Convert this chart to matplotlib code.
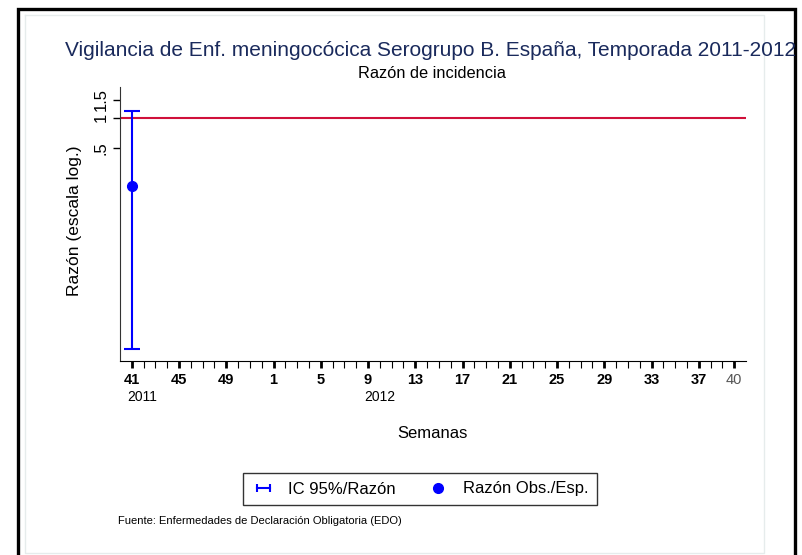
import numpy as np
import matplotlib
matplotlib.use("Agg")
import matplotlib.pyplot as plt
from matplotlib.lines import Line2D
from matplotlib.legend_handler import HandlerLine2D
from matplotlib.ticker import FixedLocator, NullFormatter

plt.rcParams["font.family"] = ["Liberation Sans", "DejaVu Sans"]

# -----------------------------
# Data
# -----------------------------
weeks = [41, 42, 43, 44, 45, 46, 47, 48, 49, 50, 51, 52] + list(range(1, 41))
week_labels = ["41", "45", "49", "1", "5", "9", "13", "17", "21", "25", "29", "33", "37", "40"]
label_pos = [0, 4, 8, 12, 16, 20, 24, 28, 32, 36, 40, 44, 48, 51]
obs_pos = [0]          # semana 41 de 2011
ratio = [0.21]
ci_low = [0.0052]
ci_high = [1.17]

W, H = 802, 555
fig = plt.figure(figsize=(W / 100, H / 100), dpi=100)
fig.patch.set_facecolor("white")

def px(x0, y0, x1, y1):
    return [x0 / W, 1 - y1 / H, (x1 - x0) / W, (y1 - y0) / H]

# -----------------------------
# Frames
# -----------------------------
bg = fig.add_axes([0, 0, 1, 1], zorder=-5)
bg.set_xlim(0, W)
bg.set_ylim(H, 0)
bg.axis("off")
bg.plot([25, 764, 764, 25, 25], [15, 15, 553, 553, 15], color="#e6ecec", lw=1.0)
bg.plot([17.5, 17.5, 794.5, 794.5], [H + 5, 8.5, 8.5, H + 5], color="black", lw=2.4,
        solid_joinstyle="miter")

# -----------------------------
# Main axes
# -----------------------------
ax = fig.add_axes(px(120, 87, 746, 361))
ax.set_facecolor("none")
ax.set_yscale("log")
ax.set_ylim(0.0040, 2.0)
ax.set_xlim(-1, 52)

ax.axhline(1, color="#d0103a", lw=1.5, zorder=1)

r = np.array(ratio)
lo = np.array(ci_low)
hi = np.array(ci_high)
ax.errorbar(obs_pos, r, yerr=[r - lo, hi - r], fmt="none", ecolor="#0000ff",
            elinewidth=1.5, capsize=6, capthick=1.5, zorder=3)
ax.plot(obs_pos, r, "o", color="#0000ff", ms=7, zorder=4)

for s in ["top", "right"]:
    ax.spines[s].set_visible(False)
ax.spines["left"].set_color("#333333")
ax.spines["bottom"].set_color("black")

ax.yaxis.set_major_locator(FixedLocator([0.5, 1, 1.5]))
ax.yaxis.set_minor_locator(FixedLocator([]))
ax.set_yticklabels([".5", "1", "1.5"], rotation=90, va="center", fontsize=12)
ax.tick_params(axis="y", length=5, width=1, pad=3)

ax.xaxis.set_major_locator(FixedLocator(label_pos))
ax.xaxis.set_minor_locator(FixedLocator(range(52)))
ax.xaxis.set_minor_formatter(NullFormatter())
ax.set_xticklabels(week_labels, fontsize=10.5, fontweight="bold")
ax.tick_params(axis="x", which="major", length=5, width=2, pad=4)
ax.tick_params(axis="x", which="minor", length=5, width=0.8)
lab40 = ax.get_xticklabels()[-1]
lab40.set_fontweight("normal")
lab40.set_color("#555555")

ax.text(-0.4, -0.13, "2011", transform=ax.get_xaxis_transform(), fontsize=10,
        ha="left", va="center")
ax.text(19.7, -0.13, "2012", transform=ax.get_xaxis_transform(), fontsize=10,
        ha="left", va="center")

fig.text(432 / W, 1 - 433 / H, "Semanas", fontsize=12, ha="center", va="center")
fig.text(75 / W, 1 - 221 / H, "Razón (escala log.)", fontsize=12.5, rotation=90,
         ha="center", va="center")

# -----------------------------
# Titles
# -----------------------------
fig.text(65 / W, 1 - 51 / H,
         "Vigilancia de Enf. meningocócica Serogrupo B. España, Temporada 2011-2012",
         fontsize=15, color="#1a2a5c", ha="left", va="center")
fig.text(432 / W, 1 - 74 / H, "Razón de incidencia", fontsize=11.8, ha="center",
         va="center")

# -----------------------------
# Legend
# -----------------------------
h_ci = Line2D([0, 1], [0, 0], color="#0000ff", lw=1.5, marker="|", ms=6, mew=1.5)
h_pt = Line2D([], [], color="#0000ff", ls="none", marker="o", ms=7)
leg = fig.legend([h_ci, h_pt], ["IC 95%/Razón", "Razón Obs./Esp."],
                 handler_map={h_ci: HandlerLine2D(numpoints=2),
                              h_pt: HandlerLine2D(numpoints=1)},
                 loc="center", bbox_to_anchor=(420 / W, 1 - 489 / H), ncol=2,
                 fontsize=12, frameon=True, fancybox=False, edgecolor="black",
                 handlelength=1.4, handletextpad=0.8, columnspacing=1.8,
                 borderpad=0.5)
leg.get_frame().set_linewidth(1.0)

fig.text(118 / W, 1 - 521 / H, "Fuente: Enfermedades de Declaración Obligatoria (EDO)",
         fontsize=8, ha="left", va="center")

fig.savefig("out.png", dpi=100, facecolor="white")
